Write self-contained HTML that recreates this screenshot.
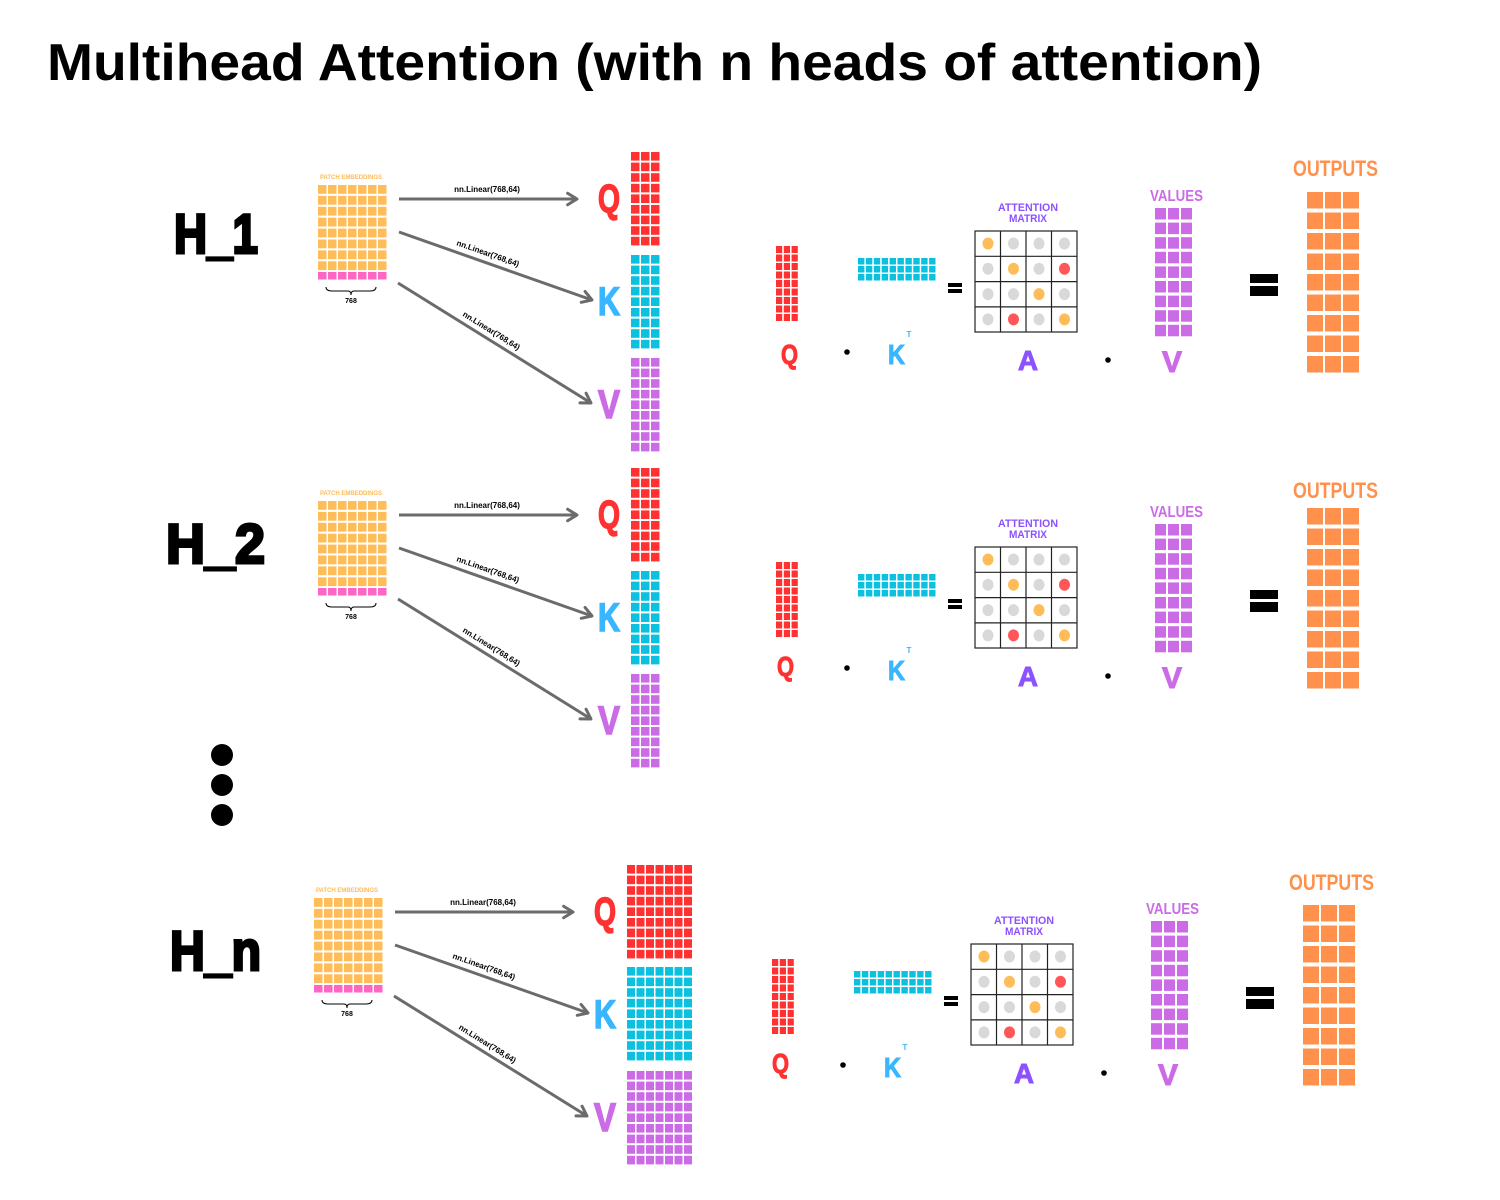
<!DOCTYPE html>
<html><head><meta charset="utf-8">
<style>
html,body{margin:0;padding:0;background:#fff;}
svg{display:block;}
.hv{font-family:"Liberation Sans",sans-serif;font-weight:bold;}
</style></head>
<body>
<svg id="s" width="1500" height="1200" viewBox="0 0 1500 1200" xmlns="http://www.w3.org/2000/svg">
<rect width="1500" height="1200" fill="#fff"/>
<text x="47" y="80" font-family="Liberation Sans,sans-serif" font-weight="bold" font-size="52" fill="#000" textLength="1215" lengthAdjust="spacingAndGlyphs">Multihead Attention (with n heads of attention)</text>
<circle cx="222" cy="755" r="11" fill="#000"/>
<circle cx="222" cy="785" r="11" fill="#000"/>
<circle cx="222" cy="815" r="11" fill="#000"/>

<g id="h1">
<text x="174" y="253" class="hv" font-size="56" fill="#000" stroke="#000" stroke-width="3" textLength="84" lengthAdjust="spacingAndGlyphs">H_1</text>
<text x="351" y="179" class="hv" font-size="6" fill="#ffbb55" text-anchor="middle">PATCH EMBEDDINGS</text>
<text x="351" y="303" class="hv" font-size="7" fill="#000" text-anchor="middle">768</text>
<text x="487" y="192" class="hv" font-size="8" fill="#000" text-anchor="middle">nn.Linear(768,64)</text>
<text class="hv" font-size="8" fill="#000" text-anchor="middle" transform="translate(487 256) rotate(19.4)">nn.Linear(768,64)</text>
<text class="hv" font-size="8" fill="#000" text-anchor="middle" transform="translate(490 333) rotate(31.9)">nn.Linear(768,64)</text>
<text x="598" y="212" class="hv" font-size="40" fill="#ff3131" stroke="#ff3131" stroke-width="1.5" textLength="22" lengthAdjust="spacingAndGlyphs">Q</text>
<text x="598" y="315" class="hv" font-size="40" fill="#38b6ff" stroke="#38b6ff" stroke-width="1.5" textLength="22" lengthAdjust="spacingAndGlyphs">K</text>
<text x="598" y="418" class="hv" font-size="40" fill="#cb6ce6" stroke="#cb6ce6" stroke-width="1.5" textLength="22" lengthAdjust="spacingAndGlyphs">V</text>
<text x="998" y="211" class="hv" font-size="11" fill="#8c52ff" textLength="60" lengthAdjust="spacingAndGlyphs">ATTENTION</text>
<text x="1009" y="222" class="hv" font-size="11" fill="#8c52ff" textLength="38" lengthAdjust="spacingAndGlyphs">MATRIX</text>
<text x="1150" y="201" class="hv" font-size="16" fill="#cb6ce6" textLength="53" lengthAdjust="spacingAndGlyphs">VALUES</text>
<text x="1293" y="176" class="hv" font-size="22" fill="#ff914d" textLength="85" lengthAdjust="spacingAndGlyphs">OUTPUTS</text>
<text x="781" y="364" class="hv" font-size="28" fill="#ff3131" stroke="#ff3131" stroke-width="1" textLength="17" lengthAdjust="spacingAndGlyphs">Q</text>
<text x="888" y="364" class="hv" font-size="28" fill="#38b6ff" stroke="#38b6ff" stroke-width="1" textLength="17" lengthAdjust="spacingAndGlyphs">K</text>
<text x="909" y="337" class="hv" font-size="8" fill="#38b6ff" text-anchor="middle">T</text>
<text x="1018" y="370" class="hv" font-size="28" fill="#8c52ff" stroke="#8c52ff" stroke-width="1" textLength="20" lengthAdjust="spacingAndGlyphs">A</text>
<text x="1162" y="372" class="hv" font-size="30" fill="#cb6ce6" stroke="#cb6ce6" stroke-width="1" textLength="20" lengthAdjust="spacingAndGlyphs">V</text>
<g id="h1g"></g>
</g>

<g transform="translate(0 316)">
<text x="166" y="247" class="hv" font-size="56" fill="#000" stroke="#000" stroke-width="3" textLength="99" lengthAdjust="spacingAndGlyphs">H_2</text>
<text x="351" y="179" class="hv" font-size="6" fill="#ffbb55" text-anchor="middle">PATCH EMBEDDINGS</text>
<text x="351" y="303" class="hv" font-size="7" fill="#000" text-anchor="middle">768</text>
<text x="487" y="192" class="hv" font-size="8" fill="#000" text-anchor="middle">nn.Linear(768,64)</text>
<text class="hv" font-size="8" fill="#000" text-anchor="middle" transform="translate(487 256) rotate(19.4)">nn.Linear(768,64)</text>
<text class="hv" font-size="8" fill="#000" text-anchor="middle" transform="translate(490 333) rotate(31.9)">nn.Linear(768,64)</text>
<text x="598" y="212" class="hv" font-size="40" fill="#ff3131" stroke="#ff3131" stroke-width="1.5" textLength="22" lengthAdjust="spacingAndGlyphs">Q</text>
<text x="598" y="315" class="hv" font-size="40" fill="#38b6ff" stroke="#38b6ff" stroke-width="1.5" textLength="22" lengthAdjust="spacingAndGlyphs">K</text>
<text x="598" y="418" class="hv" font-size="40" fill="#cb6ce6" stroke="#cb6ce6" stroke-width="1.5" textLength="22" lengthAdjust="spacingAndGlyphs">V</text>
<text x="998" y="211" class="hv" font-size="11" fill="#8c52ff" textLength="60" lengthAdjust="spacingAndGlyphs">ATTENTION</text>
<text x="1009" y="222" class="hv" font-size="11" fill="#8c52ff" textLength="38" lengthAdjust="spacingAndGlyphs">MATRIX</text>
<text x="1150" y="201" class="hv" font-size="16" fill="#cb6ce6" textLength="53" lengthAdjust="spacingAndGlyphs">VALUES</text>
<text x="1293" y="182" class="hv" font-size="22" fill="#ff914d" textLength="85" lengthAdjust="spacingAndGlyphs">OUTPUTS</text>
<text x="777" y="360" class="hv" font-size="28" fill="#ff3131" stroke="#ff3131" stroke-width="1" textLength="17" lengthAdjust="spacingAndGlyphs">Q</text>
<text x="888" y="364" class="hv" font-size="28" fill="#38b6ff" stroke="#38b6ff" stroke-width="1" textLength="17" lengthAdjust="spacingAndGlyphs">K</text>
<text x="909" y="337" class="hv" font-size="8" fill="#38b6ff" text-anchor="middle">T</text>
<text x="1018" y="370" class="hv" font-size="28" fill="#8c52ff" stroke="#8c52ff" stroke-width="1" textLength="20" lengthAdjust="spacingAndGlyphs">A</text>
<text x="1162" y="372" class="hv" font-size="30" fill="#cb6ce6" stroke="#cb6ce6" stroke-width="1" textLength="20" lengthAdjust="spacingAndGlyphs">V</text>
<g id="h2g"></g>
</g>

<g transform="translate(-4 713)">
<text x="174" y="257" class="hv" font-size="56" fill="#000" stroke="#000" stroke-width="3" textLength="91" lengthAdjust="spacingAndGlyphs">H_n</text>
<text x="351" y="179" class="hv" font-size="6" fill="#ffbb55" text-anchor="middle">PATCH EMBEDDINGS</text>
<text x="351" y="303" class="hv" font-size="7" fill="#000" text-anchor="middle">768</text>
<text x="487" y="192" class="hv" font-size="8" fill="#000" text-anchor="middle">nn.Linear(768,64)</text>
<text class="hv" font-size="8" fill="#000" text-anchor="middle" transform="translate(487 256) rotate(19.4)">nn.Linear(768,64)</text>
<text class="hv" font-size="8" fill="#000" text-anchor="middle" transform="translate(490 333) rotate(31.9)">nn.Linear(768,64)</text>
<text x="598" y="212" class="hv" font-size="40" fill="#ff3131" stroke="#ff3131" stroke-width="1.5" textLength="22" lengthAdjust="spacingAndGlyphs">Q</text>
<text x="598" y="315" class="hv" font-size="40" fill="#38b6ff" stroke="#38b6ff" stroke-width="1.5" textLength="22" lengthAdjust="spacingAndGlyphs">K</text>
<text x="598" y="418" class="hv" font-size="40" fill="#cb6ce6" stroke="#cb6ce6" stroke-width="1.5" textLength="22" lengthAdjust="spacingAndGlyphs">V</text>
<text x="998" y="211" class="hv" font-size="11" fill="#8c52ff" textLength="60" lengthAdjust="spacingAndGlyphs">ATTENTION</text>
<text x="1009" y="222" class="hv" font-size="11" fill="#8c52ff" textLength="38" lengthAdjust="spacingAndGlyphs">MATRIX</text>
<text x="1150" y="201" class="hv" font-size="16" fill="#cb6ce6" textLength="53" lengthAdjust="spacingAndGlyphs">VALUES</text>
<text x="1293" y="177" class="hv" font-size="22" fill="#ff914d" textLength="85" lengthAdjust="spacingAndGlyphs">OUTPUTS</text>
<text x="776" y="360" class="hv" font-size="28" fill="#ff3131" stroke="#ff3131" stroke-width="1" textLength="17" lengthAdjust="spacingAndGlyphs">Q</text>
<text x="888" y="364" class="hv" font-size="28" fill="#38b6ff" stroke="#38b6ff" stroke-width="1" textLength="17" lengthAdjust="spacingAndGlyphs">K</text>
<text x="909" y="337" class="hv" font-size="8" fill="#38b6ff" text-anchor="middle">T</text>
<text x="1018" y="370" class="hv" font-size="28" fill="#8c52ff" stroke="#8c52ff" stroke-width="1" textLength="20" lengthAdjust="spacingAndGlyphs">A</text>
<text x="1162" y="372" class="hv" font-size="30" fill="#cb6ce6" stroke="#cb6ce6" stroke-width="1" textLength="20" lengthAdjust="spacingAndGlyphs">V</text>
<g id="h3g"></g>
</g>
</svg>
<script>
var NS="http://www.w3.org/2000/svg";
function el(p,t,a){var e=document.createElementNS(NS,t);for(var k in a)e.setAttribute(k,a[k]);p.appendChild(e);return e;}
function grid(p,x,y,cols,rows,px,py,w,h,c){for(var r=0;r<rows;r++)for(var i=0;i<cols;i++)el(p,'rect',{x:x+i*px,y:y+r*py,width:w,height:h,fill:c});}
function build(id,wide){
 var g=document.getElementById(id);
 grid(g,318,185,7,8,10,10.9,8.5,8.8,'#ffbd59');
 grid(g,318,272,7,1,10,10,8.5,7.5,'#ff66c4');
 el(g,'path',{d:'M326 287 q0 4 6 4 h16 q3 0 3 4 q0 -4 3 -4 h16 q6 0 6 -4',fill:'none',stroke:'#000','stroke-width':1});
 var ac='#6b6b6b';
 function arrow(x1,y1,x2,y2){el(g,'line',{x1:x1,y1:y1,x2:x2,y2:y2,stroke:ac,'stroke-width':3});
  var a=Math.atan2(y2-y1,x2-x1),L=11,s=0.55;
  el(g,'polyline',{points:(x2-L*Math.cos(a-s))+','+(y2-L*Math.sin(a-s))+' '+x2+','+y2+' '+(x2-L*Math.cos(a+s))+','+(y2-L*Math.sin(a+s)),fill:'none',stroke:ac,'stroke-width':3,'stroke-linecap':'round','stroke-linejoin':'round'});}
 arrow(399,199,577,199);arrow(399,232,592,300);arrow(398,283,591,403);
 if(wide){grid(g,631,152,7,9,9.5,10.6,8,8.6,'#ff3131');grid(g,631,254,7,9,9.5,10.6,8,8.6,'#0cc0df');grid(g,631,358,7,9,9.5,10.6,8,8.6,'#cb6ce6');}
 else{grid(g,631,152,3,9,10,10.6,8.5,8.6,'#ff3131');grid(g,631,255,3,9,10,10.6,8.5,8.6,'#0cc0df');grid(g,631,358,3,9,10,10.6,8.5,8.6,'#cb6ce6');}
 grid(g,776,246,3,9,7.8,8.5,6.2,7,'#ff3131');
 grid(g,858,258,10,3,7.9,8,6.4,6.5,'#0cc0df');
 el(g,'rect',{x:948,y:283,width:14,height:4,fill:'#000'});el(g,'rect',{x:948,y:289,width:14,height:4,fill:'#000'});
 el(g,'rect',{x:975,y:231,width:102,height:101,fill:'#fff',stroke:'#222','stroke-width':1.2});
 for(var i=1;i<4;i++){el(g,'line',{x1:975+i*25.5,y1:231,x2:975+i*25.5,y2:332,stroke:'#222','stroke-width':1.2});el(g,'line',{x1:975,y1:231+i*25.3,x2:1077,y2:231+i*25.3,stroke:'#222','stroke-width':1.2});}
 var O='#ffbd59',G='#d9d9d9',R='#ff5757';
 var m=[[O,G,G,G],[G,O,G,R],[G,G,O,G],[G,R,G,O]];
 for(var r=0;r<4;r++)for(var c=0;c<4;c++)el(g,'ellipse',{cx:988+c*25.5,cy:243.5+r*25.3,rx:5.5,ry:6,fill:m[r][c]});
 el(g,'circle',{cx:847,cy:352,r:2.8,fill:'#000'});
 el(g,'circle',{cx:1108,cy:360,r:2.8,fill:'#000'});
 grid(g,1155,208,3,9,13,14.6,11,11.5,'#cb6ce6');
 el(g,'rect',{x:1250,y:274,width:28,height:9,fill:'#000'});el(g,'rect',{x:1250,y:286,width:28,height:10,fill:'#000'});
 grid(g,1307,192,3,9,18,20.5,16,16.5,'#ff914d');
}
build('h1g',false);build('h2g',false);build('h3g',true);
</script>
</body></html>
